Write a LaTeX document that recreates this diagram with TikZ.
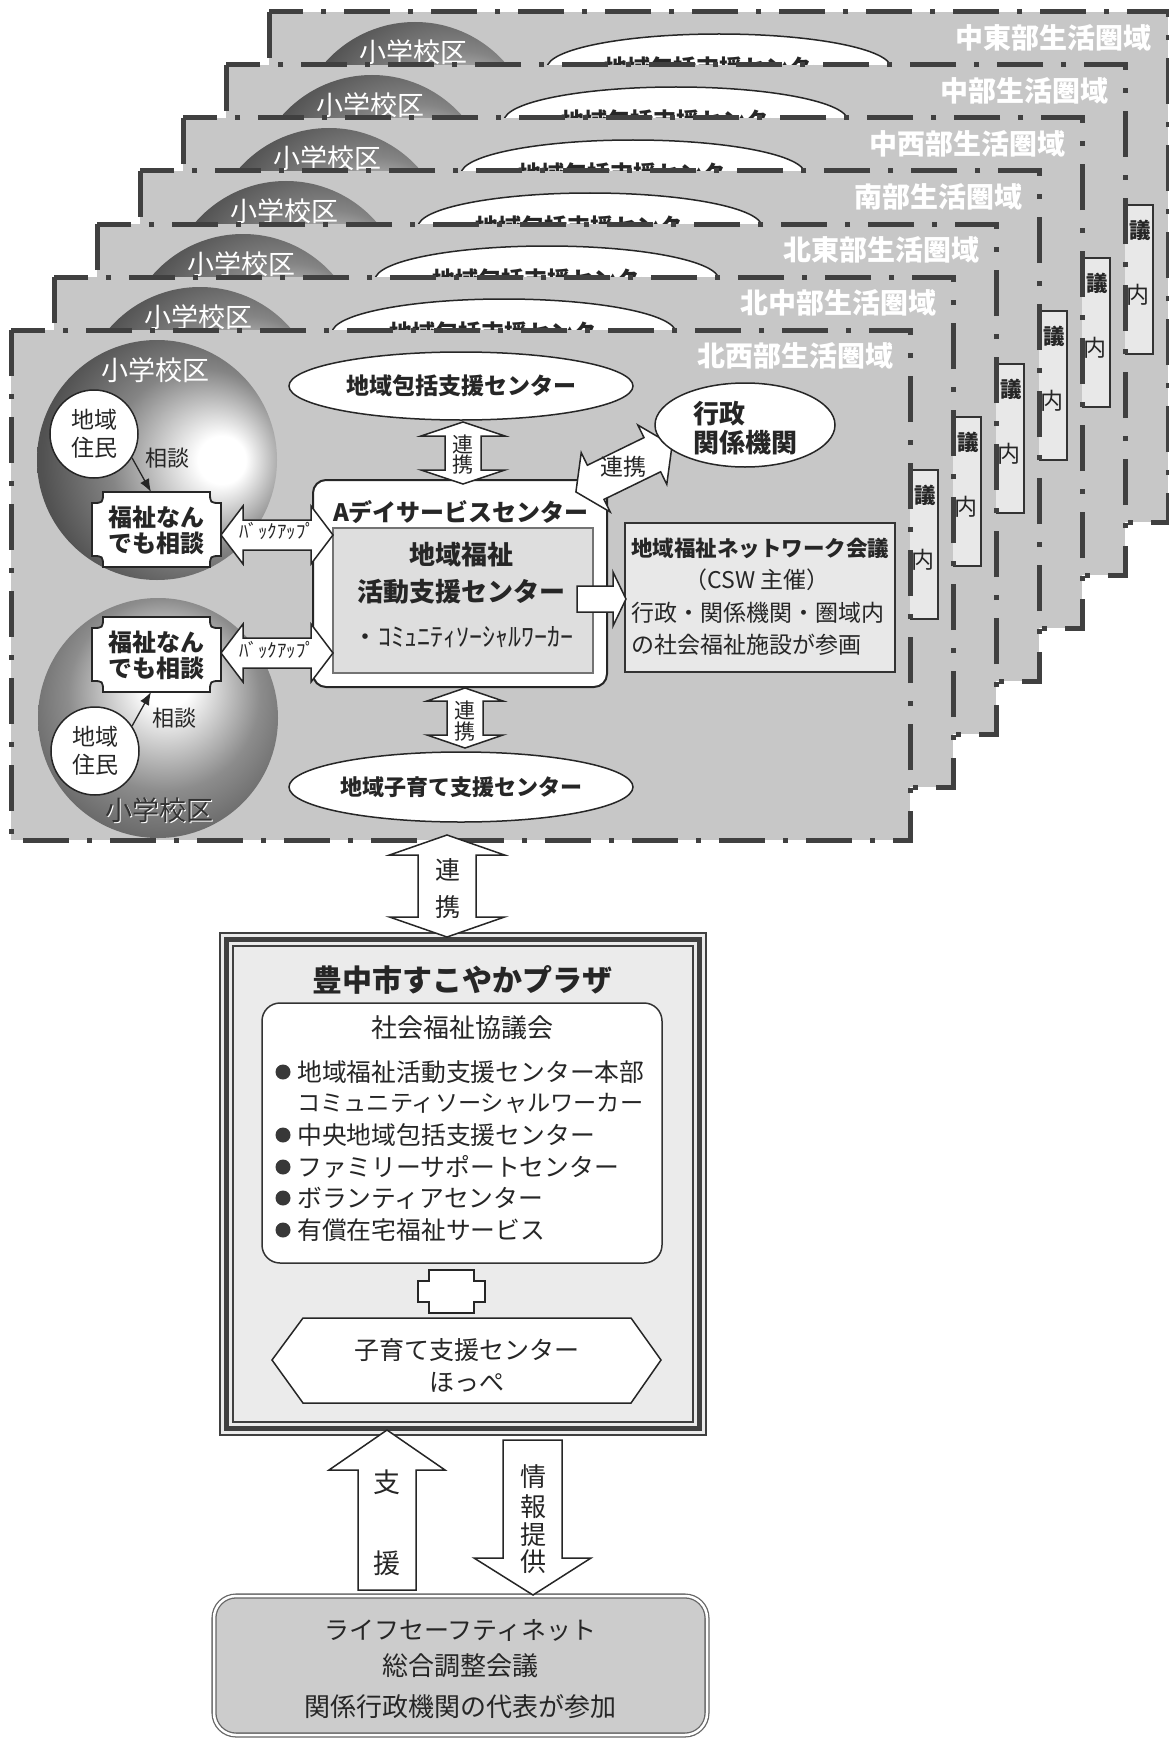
\documentclass[tikz,border=0pt]{standalone}
\usepackage{fontspec}
\setmainfont{Noto Sans CJK JP}
\usetikzlibrary{shapes.geometric,arrows.meta}
\newcommand\fs[2]{\fontsize{#1pt}{#2pt}\selectfont}
\pgfdeclareradialshading{ballR}{\pgfpoint{15bp}{0bp}}{color(0bp)=(white); color(5bp)=(white); color(19bp)=(black!48); color(30bp)=(black!68); color(50bp)=(black!76)}
\pgfdeclareradialshading{ballU}{\pgfpoint{2bp}{8bp}}{color(0bp)=(white); color(5bp)=(white); color(20bp)=(black!45); color(32bp)=(black!64); color(50bp)=(black!70)}
\tikzset{
  txt/.style={inner sep=0pt, text=black!85},
  blockarrow/.style={draw=black!85, fill=white, line width=1.5pt, line join=miter},
  plaquestyle/.style={draw=black!85, fill=white, line width=1.8pt},
  jumin/.style={circle, draw=black!85, line width=1.5pt, fill=white, minimum size=88pt, inner sep=0pt, font=\fs{23}{28}, align=center, text=black!85},
  ell/.style={ellipse, draw=black!85, line width=1.5pt, fill=white, inner sep=0pt, text=black!85},
  abox/.style={rectangle, rounded corners=13pt, draw=black!85, line width=2pt, fill=white, minimum width=294pt, minimum height=207pt, inner sep=0pt},
  inbox/.style={rectangle, draw=black!55, line width=1.2pt, fill=black!13, minimum width=260pt, minimum height=145pt, inner sep=0pt},
  netbox/.style={rectangle, draw=black!80, line width=1.8pt, fill=black!9, minimum width=270pt, minimum height=149pt, inner sep=0pt},
  panelfill/.style={fill=black!22},
  panelborder/.style={draw=black!75, line width=5pt, dash pattern=on 46pt off 18pt on 5pt off 18pt},
  soudan/.style={draw=black!85, line width=1.3pt, -{Latex[length=13pt,width=10pt]}}
}
% horizontal double block arrow: x1 x2 cy shafthalf headhalf headlen
\newcommand\hdarrow[6]{\draw[blockarrow] (#1,#3) -- (#1+#6,#3-#5) -- (#1+#6,#3-#4) -- (#2-#6,#3-#4) -- (#2-#6,#3-#5) -- (#2,#3) -- (#2-#6,#3+#5) -- (#2-#6,#3+#4) -- (#1+#6,#3+#4) -- (#1+#6,#3+#5) -- cycle;}
% vertical double block arrow: cx ytop ybot shafthalf headhalf headlen
\newcommand\vdarrow[6]{\draw[blockarrow] (#1,#2) -- (#1+#5,#2+#6) -- (#1+#4,#2+#6) -- (#1+#4,#3-#6) -- (#1+#5,#3-#6) -- (#1,#3) -- (#1-#5,#3-#6) -- (#1-#4,#3-#6) -- (#1-#4,#2+#6) -- (#1-#5,#2+#6) -- cycle;}
% plaque with concave corners
\newcommand\plaque[4]{\draw[plaquestyle] (#1+11,#2) -- (#3-11,#2) .. controls (#3-11,#2+11) .. (#3,#2+11) -- (#3,#4-11) .. controls (#3-11,#4-11) .. (#3-11,#4) -- (#1+11,#4) .. controls (#1+11,#4-11) .. (#1,#4-11) -- (#1,#2+11) .. controls (#1+11,#2+11) .. (#1+11,#2) -- cycle;}
\newcommand\regionpanel[2]{%
\begin{scope}[shift={(43*#1,-53*#1)}]
  \fill[panelfill] (11,330) rectangle (910,840);
  \shade[shading=ballR] (157,460) circle[radius=120];
  \shade[shading=ballU] (158,718) circle[radius=120];
  \node[inner sep=0pt, font=\fs{27}{27}, text=white] (sk#1) at (155,370) {小学校区};
  \node[ell, minimum width=344pt, minimum height=68pt, font=\bfseries\fs{23}{23}] (hk#1) at (461,386) {地域包括支援センター};
  \node[netbox] (nw#1) at (760,597.5) {};
  \ifnum#1=0
  \node[inner sep=0pt, font=\fs{27}{27}, text=white] at (160,811) {小学校区};
  \node[inner sep=0pt, font=\fs{27}{27}, text=black!80] at (159,810) {小学校区};
  \node[jumin] (jA#1) at (94,434) {地域\\住民};
  \node[jumin] (jB#1) at (95,751) {地域\\住民};
  \coordinate (fA#1) at (151,492);
  \coordinate (fB#1) at (151,692);
  \draw[soudan] (jA#1.-32) -- (fA#1);
  \draw[soudan] (jB#1.34) -- (fB#1);
  \node[txt, font=\fs{22}{22}] at (167,458) {相談};
  \node[txt, font=\fs{22}{22}] at (174,718) {相談};
  \plaque{92}{492}{221}{567}
  \plaque{92}{617}{221}{692}
  \node[txt, font=\bfseries\fs{24}{26}, align=center] (fbA#1) at (156.5,530) {福祉なん\\でも相談};
  \node[txt, font=\bfseries\fs{24}{26}, align=center] (fbB#1) at (156.5,655) {福祉なん\\でも相談};
  \node[ell, minimum width=344pt, minimum height=70pt, font=\bfseries\fs{22}{22}] (ks#1) at (461,787) {地域子育て支援センター};
  \node[abox] (ad#1) at (460,583.5) {};
  \node[txt, font=\bfseries\fs{24}{24}] at (461,512) {Aデイサービスセンター};
  \node[inbox] (sc#1) at (463,600.5) {};
  \node[txt, font=\bfseries\fs{26}{26}] at (461,555) {地域福祉};
  \node[txt, font=\bfseries\fs{26}{26}] at (461,592) {活動支援センター};
  \node[txt, font=\fs{26}{26}] at (463,637) {・ｺﾐｭﾆﾃｨｿｰｼｬﾙﾜｰｶｰ};
  \vdarrow{463}{422}{484}{18}{42}{14}
  \node[txt, font=\fs{21}{20}, align=center] at (463,455) {連\\携};
  \vdarrow{465}{688}{748}{18}{38}{13}
  \node[txt, font=\fs{21}{21}, align=center] at (465,721) {連\\携};
  \hdarrow{221}{333}{535}{15}{29}{22}
  \node[txt, font=\fs{19}{19}] at (277,531) {ﾊﾞｯｸｱｯﾌﾟ};
  \hdarrow{221}{333}{653}{15}{29}{22}
  \node[txt, font=\fs{19}{19}] at (277,650) {ﾊﾞｯｸｱｯﾌﾟ};
  \begin{scope}[shift={(624,468.5)},rotate=26]
    \hdarrow{-53.5}{53.5}{0}{19}{33}{22}
  \end{scope}
  \node[txt, font=\fs{23}{23}] at (623,467) {連携};
  \node[ell, minimum width=180pt, minimum height=84pt] (gy#1) at (745,425) {};
  \node[txt, font=\bfseries\fs{26}{29}, align=left] at (745,428) {行政\\関係機関};
  \draw[blockarrow] (577,586) -- (613,586) -- (613,572) -- (626,599) -- (613,626) -- (613,612) -- (577,612) -- cycle;
  \node[txt, font=\bfseries\fs{21.5}{21.5}, anchor=west] at (631,548) {地域福祉ネットワーク会議};
  \node[txt, font=\fs{23}{23}] at (757,580) {（CSW 主催）};
  \node[txt, font=\fs{23}{23}, anchor=west] at (631,613) {行政・関係機関・圏域内};
  \node[txt, font=\fs{23}{23}, anchor=west] at (631,645) {の社会福祉施設が参画};
  \else
  \node[txt, font=\bfseries\fs{21.5}{21.5}, anchor=east] at (893,548) {議};
  \node[txt, font=\fs{23}{23}, anchor=east] at (892,613) {内};
  \fi
  \node[inner sep=0pt, text=white, font=\bfseries\fs{28}{28}, anchor=east] at (894,356) {#2};
  \draw[panelborder] (11,330) rectangle (910,840);
\end{scope}}
\begin{document}
\begin{tikzpicture}[x=1pt,y=-1pt]
\useasboundingbox (0,0) rectangle (1169,1739);
\fill[white] (0,0) rectangle (1169,1739);
\regionpanel{6}{中東部生活圏域}
\regionpanel{5}{中部生活圏域}
\regionpanel{4}{中西部生活圏域}
\regionpanel{3}{南部生活圏域}
\regionpanel{2}{北東部生活圏域}
\regionpanel{1}{北中部生活圏域}
\regionpanel{0}{北西部生活圏域}
% plaza
\fill[black!8] (220,933) rectangle (706,1435);
\node[minimum width=486pt, minimum height=502pt, inner sep=0pt] (plaza) at (463,1184) {};
\draw[line width=1.5pt, draw=black!75] (220,933) rectangle (706,1435);
\draw[line width=5pt, draw=black!75] (226.5,939.5) rectangle (699.5,1428.5);
\draw[line width=1.5pt, draw=black!75] (233,946) rectangle (693,1422);
\node[txt, font=\bfseries\fs{30}{30}] at (462,980) {豊中市すこやかプラザ};
\node[draw=black!80, line width=1.5pt, rounded corners=18pt, fill=white, minimum width=400pt, minimum height=260pt, inner sep=0pt] (shakyo) at (462,1133) {};
\node[txt, font=\fs{26}{26}] at (462,1028) {社会福祉協議会};
\foreach \yy in {1072,1135,1167,1198,1230}{\fill[black!78] (283,\yy) circle[radius=7.5];}
\node[txt, font=\fs{24.8}{24.8}, anchor=west] at (297,1072) {地域福祉活動支援センター本部};
\node[txt, font=\fs{23.2}{23.2}, anchor=west] at (297,1103) {コミュニティソーシャルワーカー};
\node[txt, font=\fs{24.8}{24.8}, anchor=west] at (297,1135) {中央地域包括支援センター};
\node[txt, font=\fs{24.8}{24.8}, anchor=west] at (297,1167) {ファミリーサポートセンター};
\node[txt, font=\fs{24.8}{24.8}, anchor=west] at (297,1198) {ボランティアセンター};
\node[txt, font=\fs{24.8}{24.8}, anchor=west] at (297,1230) {有償在宅福祉サービス};
\draw[blockarrow] (429,1270) -- (474,1270) -- (474,1281) -- (485,1281) -- (485,1302) -- (474,1302) -- (474,1313) -- (429,1313) -- (429,1302) -- (418,1302) -- (418,1281) -- (429,1281) -- cycle;
\draw[blockarrow] (272,1360) -- (303,1318) -- (631,1318) -- (661,1360) -- (631,1403) -- (303,1403) -- cycle;
\node[txt, font=\fs{25}{25}] (hoppe) at (467,1350) {子育て支援センター};
\node[txt, font=\fs{25}{25}] at (467,1382) {ほっぺ};
% link arrow between region panel and plaza
\vdarrow{447}{835}{937}{29}{57.5}{20}
\node[txt, font=\fs{25}{25}] at (448,870) {連};
\node[txt, font=\fs{25}{25}] at (448,907) {携};
% life safety net
\draw[line width=1.3pt, draw=black!60, double=white, double distance=2.5pt, fill=black!20, rounded corners=22pt] (214,1596) rectangle (707,1735);
\node[minimum width=493pt, minimum height=139pt, inner sep=0pt] (life) at (460.5,1665.5) {};
\node[txt, font=\fs{25}{25}] at (460,1630) {ライフセーフティネット};
\node[txt, font=\fs{26}{26}] at (460,1666) {総合調整会議};
\node[txt, font=\fs{26}{26}] at (460,1707) {関係行政機関の代表が参加};
% support / info arrows
\draw[blockarrow] (387,1430) -- (445,1470) -- (416,1470) -- (416,1590) -- (358,1590) -- (358,1470) -- (329,1470) -- cycle;
\node[txt, font=\fs{27}{27}] at (387,1482) {支};
\node[txt, font=\fs{27}{27}] at (387,1563) {援};
\draw[blockarrow] (503,1440) -- (562,1440) -- (562,1558) -- (591,1558) -- (533,1595) -- (474,1558) -- (503,1558) -- cycle;
\node[txt, font=\fs{26}{26}] at (533,1477) {情};
\node[txt, font=\fs{26}{26}] at (533,1507) {報};
\node[txt, font=\fs{26}{26}] at (533,1535) {提};
\node[txt, font=\fs{26}{26}] at (533,1562) {供};
\end{tikzpicture}
\end{document}
